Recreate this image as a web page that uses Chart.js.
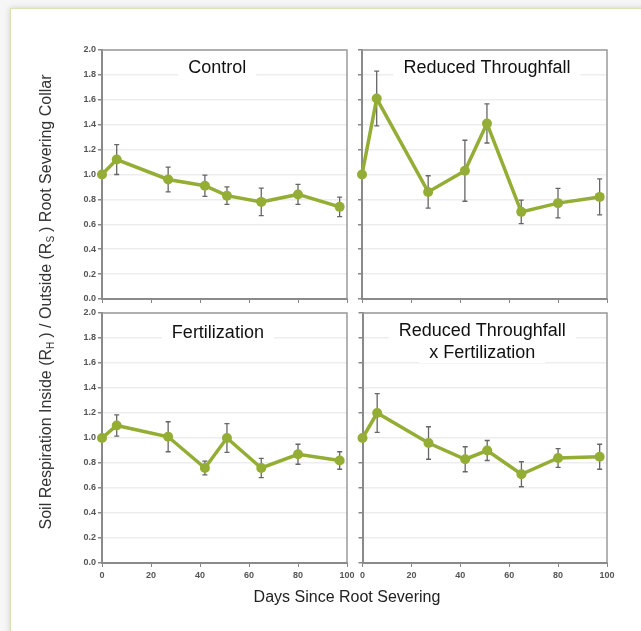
<!DOCTYPE html>
<html>
<head>
<meta charset="utf-8">
<script src="https://cdn.jsdelivr.net/npm/chart.js@4.4.1/dist/chart.umd.min.js"></script>
<style>
  html, body { margin: 0; padding: 0; background: #f6f6f6; }
  #page { position: relative; width: 641px; height: 631px; overflow: hidden; }
  #card {
    position: absolute; left: 10px; top: 8px; width: 650px; height: 650px;
    background: #fff; border: 1px solid #d9e3b6; box-shadow: 0 0 6px rgba(0,0,0,0.16);
  }
  canvas { position: absolute; }
  #x-title {
    position: absolute; left: 102px; width: 490px; top: 588px;
    text-align: center; font: 16px "Liberation Sans", Arial, sans-serif; color: #222;
  }
  #y-title {
    position: absolute; left: -233px; top: 292px; width: 560px; height: 20px;
    text-align: center; font: 16px "Liberation Sans", Arial, sans-serif; color: #333;
    transform: rotate(-90deg); transform-origin: 50% 50%; white-space: nowrap;
  }
  #y-title sub { font-size: 10px; vertical-align: -3px; margin-right: 4px; }
</style>
</head>
<body>
<div id="page">
  <div id="card"></div>
  <canvas id="panel-tl" width="302" height="265" style="left:50px;top:42px"></canvas>
  <canvas id="panel-tr" width="255" height="265" style="left:357px;top:42px"></canvas>
  <canvas id="panel-bl" width="310" height="290" style="left:50px;top:305px"></canvas>
  <canvas id="panel-br" width="263" height="290" style="left:357px;top:305px"></canvas>
  <div id="x-title">Days Since Root Severing</div>
  <div id="y-title">Soil Respiration Inside (R<sub>H</sub>) / Outside (R<sub>S</sub>) Root Severing Collar</div>
</div>
<script>
// days since root severing
const days = [0, 6, 27, 42, 51, 65, 80, 97];

// ratio means and +/- error per treatment
const controlMean = [1.0, 1.12, 0.96, 0.91, 0.83, 0.78, 0.84, 0.74];
const controlErr = [0, 0.12, 0.10, 0.085, 0.07, 0.11, 0.08, 0.078];

const throughfallMean = [1.0, 1.61, 0.86, 1.03, 1.41, 0.70, 0.77, 0.82];
const throughfallErr = [0, 0.22, 0.13, 0.245, 0.157, 0.094, 0.118, 0.145];

const fertMean = [1.0, 1.10, 1.01, 0.76, 1.0, 0.76, 0.87, 0.82];
const fertErr = [0, 0.085, 0.12, 0.055, 0.115, 0.077, 0.08, 0.07];

const comboMean = [1.0, 1.20, 0.96, 0.83, 0.90, 0.71, 0.84, 0.85];
const comboErr = [0, 0.155, 0.13, 0.10, 0.08, 0.10, 0.075, 0.10];

const xTicks = [0, 20, 40, 60, 80, 100];
const yTicks = [0, 0.2, 0.4, 0.6, 0.8, 1.0, 1.2, 1.4, 1.6, 1.8, 2.0];

const green = "#93ad35";
const tickFont = { family: "'Liberation Sans', Arial, sans-serif", size: 9, weight: "bold" };

const panelPlugin = {
  id: "panelDecor",
  beforeDatasetsDraw(chart, args, opts) {
    const ctx = chart.ctx;
    const area = chart.chartArea;
    const x = chart.scales.x;
    const y = chart.scales.y;

    // title with white backing over gridlines
    ctx.save();
    ctx.font = "18px 'Liberation Sans', Arial, sans-serif";
    ctx.textAlign = "center";
    ctx.textBaseline = "middle";
    const cx = area.left + opts.titleX * (area.right - area.left);
    opts.title.forEach((line, i) => {
      const cy = area.top + opts.titleY + i * 22;
      const w = ctx.measureText(line).width;
      ctx.fillStyle = "#fff";
      ctx.fillRect(cx - w / 2 - 10, cy - 10, w + 20, 20);
      ctx.fillStyle = "#111";
      ctx.fillText(line, cx, cy);
    });
    ctx.restore();

    // error bars
    ctx.save();
    ctx.strokeStyle = "#666";
    ctx.lineWidth = 1.3;
    opts.means.forEach((m, i) => {
      const e = opts.errors[i];
      if (!e) return;
      const px = x.getPixelForValue(days[i]);
      const top = y.getPixelForValue(m + e);
      const bot = y.getPixelForValue(m - e);
      ctx.beginPath();
      ctx.moveTo(px, top); ctx.lineTo(px, bot);
      ctx.moveTo(px - 2.5, top); ctx.lineTo(px + 2.5, top);
      ctx.moveTo(px - 2.5, bot); ctx.lineTo(px + 2.5, bot);
      ctx.stroke();
    });
    ctx.restore();
  },
  afterDraw(chart) {
    const ctx = chart.ctx;
    const a = chart.chartArea;
    ctx.save();
    ctx.strokeStyle = "#9a9a9a";
    ctx.lineWidth = 1.5;
    ctx.beginPath();
    ctx.moveTo(a.left, a.top); ctx.lineTo(a.right, a.top); ctx.lineTo(a.right, a.bottom);
    ctx.stroke();
    ctx.restore();
  }
};

function makePanel(id, means, errors, title, titleX, titleY, showX, showY) {
  const canvas = document.getElementById(id);
  return new Chart(canvas.getContext("2d"), {
    type: "line",
    data: {
      datasets: [{
        data: days.map((d, i) => ({ x: d, y: means[i] })),
        borderColor: green,
        backgroundColor: green,
        borderWidth: 3.5,
        pointRadius: 5,
        pointBorderWidth: 0,
        tension: 0,
        clip: false
      }]
    },
    options: {
      responsive: false,
      animation: false,
      layout: { padding: { top: 8, right: showX ? 13 : 5, left: 0, bottom: 0 } },
      plugins: {
        legend: { display: false },
        tooltip: { enabled: false },
        panelDecor: { means, errors, title, titleX, titleY }
      },
      scales: {
        x: {
          type: "linear",
          min: 0,
          max: 100,
          afterBuildTicks: s => { s.ticks = xTicks.map(v => ({ value: v })); },
          afterFit: s => { s.height = showX ? 32 : 8; },
          ticks: { display: showX, color: "#555", font: tickFont, padding: 3 },
          grid: { drawOnChartArea: false, drawTicks: true, tickLength: 4, tickColor: "#888" },
          border: { display: true, color: "#8a8a8a", width: 2 }
        },
        y: {
          min: 0,
          max: 2,
          afterBuildTicks: s => { s.ticks = yTicks.map(v => ({ value: v })); },
          afterFit: s => { s.width = showY ? 52 : 5; },
          ticks: {
            display: showY, color: "#555", font: tickFont, padding: 2,
            callback: v => Number(v).toFixed(1)
          },
          grid: { color: "#ededed", lineWidth: 1.5, tickLength: 4, tickColor: "#888" },
          border: { display: true, color: "#8a8a8a", width: 2 }
        }
      }
    },
    plugins: [panelPlugin]
  });
}

makePanel("panel-tl", controlMean, controlErr, ["Control"], 0.47, 18, false, true);
makePanel("panel-tr", throughfallMean, throughfallErr, ["Reduced Throughfall"], 0.51, 18, false, false);
makePanel("panel-bl", fertMean, fertErr, ["Fertilization"], 0.473, 20, true, true);
makePanel("panel-br", comboMean, comboErr, ["Reduced Throughfall", "x Fertilization"], 0.49, 18, true, false);
</script>
</body>
</html>
